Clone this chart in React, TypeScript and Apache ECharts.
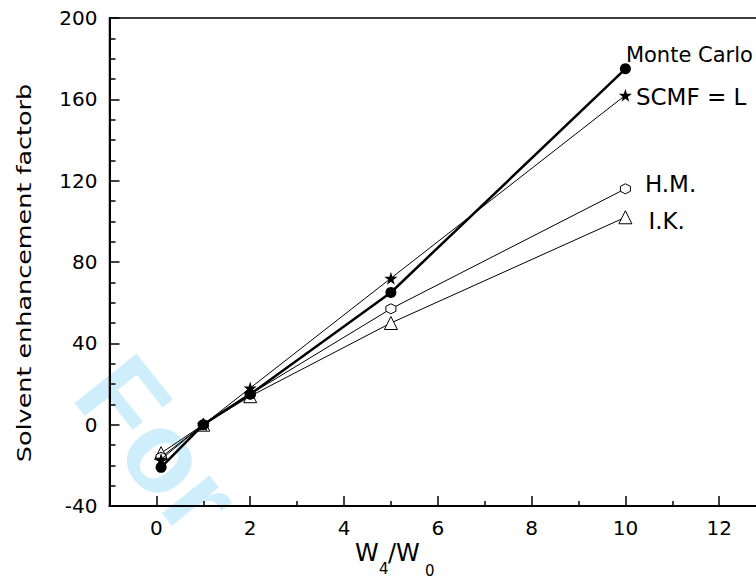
import React, { useEffect, useRef } from "react";
import * as echarts from "echarts";

const xValues = [0.1, 1, 2, 5, 10];
const monteCarlo = [-21, 0, 15, 65, 175];
const scmf = [-17, 0, 18, 72, 162];
const hm = [-16, 0, 15, 57, 116];
const ik = [-14, 0, 14, 50, 102];
const seriesNames = ["Monte Carlo", "SCMF = L", "H.M.", "I.K."];
const xMajorTicks = [0, 2, 4, 6, 8, 10, 12, 14];
const xMinorTicks = [1, 3, 5, 7, 9, 11, 13];
const xTickLabels = [0, 2, 4, 6, 8, 10, 12];
const yTitle = "Solvent enhancement factorb";

const FONT = '"DejaVu Sans", "Liberation Sans", Arial, sans-serif';
const STAR = "path://M50,0 L61,35 L98,35 L68,57 L79,91 L50,70 L21,91 L32,57 L2,35 L39,35 Z";
const HEX = "path://M50,0 L93,25 L93,75 L50,100 L7,75 L7,25 Z";

function buildData(vals: number[], label: any) {
  return xValues.map((x, i) =>
    i === xValues.length - 1 ? { value: [x, vals[i]], label } : [x, vals[i]]
  );
}

function lbl(text: string, size: number, distance: number, offset: number[]) {
  return {
    show: true,
    position: "right",
    distance,
    offset,
    formatter: text,
    color: "#000",
    fontSize: size,
    fontFamily: FONT,
  };
}

export default function App() {
  const ref = useRef<HTMLDivElement>(null);
  useEffect(() => {
    if (!ref.current) return;
    const chart = echarts.init(ref.current, undefined, { renderer: "svg" });
    const axisFont = { color: "#000", fontSize: 20, fontFamily: FONT };
    chart.setOption({
      animation: false,
      backgroundColor: "#fff",
      grid: {
        left: 109.5,
        top: 18,
        width: 703.5,
        height: 488,
        show: true,
        borderColor: "#000",
        borderWidth: 1.5,
        backgroundColor: "transparent",
      },
      xAxis: [
        {
          type: "value",
          min: -1,
          max: 14,
          axisLine: { show: true, onZero: false, lineStyle: { color: "#000", width: 2 } },
          axisTick: {
            show: true,
            inside: true,
            length: 10,
            customValues: xMajorTicks,
            lineStyle: { color: "#000", width: 1.5 },
          },
          axisLabel: { ...axisFont, margin: 12, customValues: xTickLabels },
          splitLine: { show: false },
        },
        {
          type: "value",
          position: "bottom",
          min: -1,
          max: 14,
          axisLine: { show: false, onZero: false },
          axisTick: {
            show: true,
            inside: true,
            length: 5,
            customValues: xMinorTicks,
            lineStyle: { color: "#000", width: 1.5 },
          },
          axisLabel: { show: false },
          splitLine: { show: false },
        },
      ],
      yAxis: {
        type: "value",
        min: -40,
        max: 200,
        interval: 40,
        axisLine: { show: true, onZero: false, lineStyle: { color: "#000", width: 2 } },
        axisTick: { show: true, inside: true, length: 10, lineStyle: { color: "#000", width: 1.5 } },
        minorTick: { show: true, splitNumber: 4, length: 6, lineStyle: { color: "#000", width: 1.5 } },
        axisLabel: { ...axisFont, margin: 12 },
        splitLine: { show: false },
      },
      graphic: [
        {
          type: "text",
          z: -100,
          x: 56,
          y: 408,
          rotation: -0.9,
          silent: true,
          style: {
            text: "For",
            fill: "#cfeefb",
            font: 'bold 115px "Liberation Sans", Arial, sans-serif',
            textAlign: "left",
            textVerticalAlign: "bottom",
          },
        },
        {
          type: "text",
          x: 24,
          y: 273,
          rotation: Math.PI / 2,
          scaleX: 1.34,
          style: {
            text: yTitle,
            fill: "#000",
            font: "19px " + FONT,
            textAlign: "center",
            textVerticalAlign: "middle",
          },
        },
        { type: "text", x: 355, y: 553, style: { text: "W", fill: "#000", font: "24px " + FONT, textAlign: "left", textVerticalAlign: "middle" } },
        { type: "text", x: 379, y: 569, style: { text: "4", fill: "#000", font: "15px " + FONT, textAlign: "left", textVerticalAlign: "middle" } },
        { type: "text", x: 388, y: 553, style: { text: "/W", fill: "#000", font: "24px " + FONT, textAlign: "left", textVerticalAlign: "middle" } },
        { type: "text", x: 425, y: 571, style: { text: "0", fill: "#000", font: "15px " + FONT, textAlign: "left", textVerticalAlign: "middle" } },
      ],
      series: [
        {
          name: seriesNames[3],
          type: "line",
          data: buildData(ik, lbl(seriesNames[3], 23, 16, [0, 4])),
          symbol: "triangle",
          symbolSize: 13,
          lineStyle: { color: "#000", width: 1 },
          itemStyle: { color: "#fff", borderColor: "#000", borderWidth: 1 },
          z: 2,
        },
        {
          name: seriesNames[2],
          type: "line",
          data: buildData(hm, lbl(seriesNames[2], 23, 14, [0, -5])),
          symbol: HEX,
          symbolSize: 10,
          lineStyle: { color: "#000", width: 1 },
          itemStyle: { color: "#fff", borderColor: "#000", borderWidth: 1 },
          z: 3,
        },
        {
          name: seriesNames[1],
          type: "line",
          data: buildData(scmf, lbl(seriesNames[1], 23, 4, [0, 2])),
          symbol: STAR,
          symbolSize: 13,
          lineStyle: { color: "#000", width: 1 },
          itemStyle: { color: "#000" },
          z: 4,
        },
        {
          name: seriesNames[0],
          type: "line",
          data: buildData(monteCarlo, lbl(seriesNames[0], 21, 0, [-5, -14])),
          symbol: "circle",
          symbolSize: 11,
          lineStyle: { color: "#000", width: 2.5 },
          itemStyle: { color: "#000" },
          z: 5,
        },
      ],
    });
    return () => chart.dispose();
  }, []);
  return (
    <div style={{ position: "fixed", left: 0, top: 0, width: 756, height: 581, overflow: "hidden", background: "#fff" }}>
      <div ref={ref} style={{ width: 840, height: 581 }} />
    </div>
  );
}
